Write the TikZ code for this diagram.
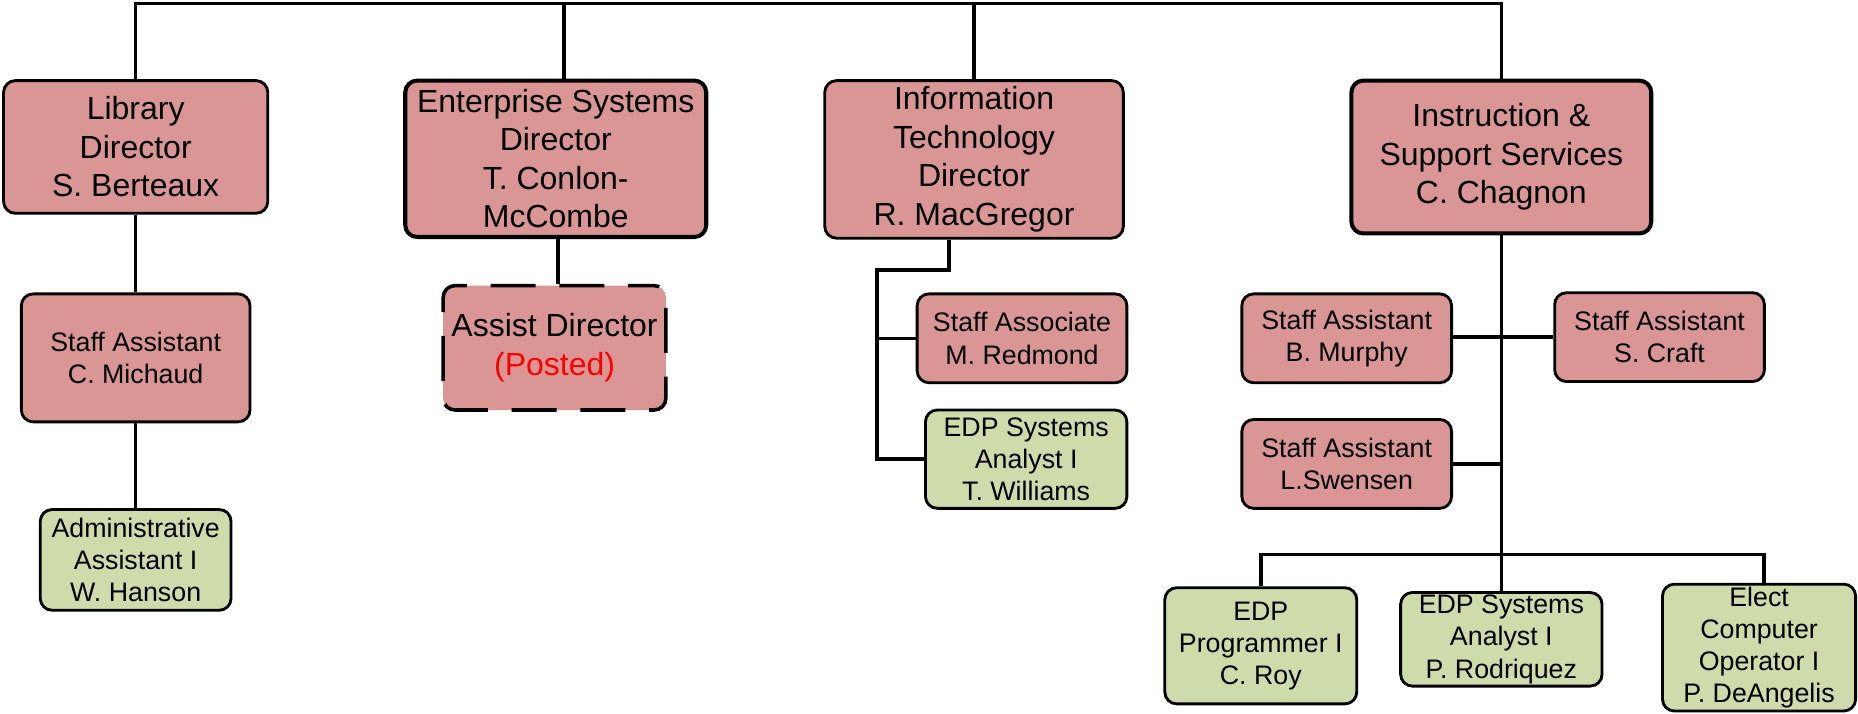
\documentclass[tikz,border=0pt]{standalone}
\usepackage{fontspec}
\setmainfont{Liberation Sans}
\definecolor{boxred}{RGB}{218,150,148}
\definecolor{boxgreen}{RGB}{205,220,170}
\begin{document}
\begin{tikzpicture}[x=0.5pt,y=-0.5pt,
  dirbox/.style={draw,rounded corners=5pt,fill=boxred,line width=1.2pt,align=center,inner sep=1pt,
    font=\fontsize{13.5}{16.25}\selectfont},
  staffbox/.style={draw,rounded corners=5pt,fill=boxred,line width=1.2pt,align=center,inner sep=1pt,
    font=\fontsize{11.3}{13.6}\selectfont},
  edpbox/.style={staffbox,fill=boxgreen},
  link/.style={line width=1.5pt}]
\useasboundingbox (0,0) rectangle (1568,602);
\coordinate (top) at (0,3);
\node[dirbox,minimum width=111.5pt,minimum height=56pt] (lib) at (114.5,124) {Library\\Director\\S. Berteaux};
\node[dirbox,line width=1.7pt,minimum width=127pt,minimum height=66pt] (ent) at (469,134) {Enterprise Systems\\Director\\T. Conlon-\\McCombe};
\node[dirbox,minimum width=126pt,minimum height=66.5pt] (it) at (822,134.5) {Information\\Technology\\Director\\R. MacGregor};
\node[dirbox,line width=1.7pt,minimum width=126.5pt,minimum height=64.5pt] (isd) at (1267,132.5) {Instruction \&\\Support Services\\C. Chagnon};
\node[staffbox,minimum width=96.5pt,minimum height=54pt] (mic) at (114.5,302) {Staff Assistant\\C. Michaud};
\node[edpbox,minimum width=80.5pt,minimum height=42.5pt] (han) at (114.5,472.5) {Administrative\\Assistant I\\W. Hanson};
\node[dirbox,line width=1.5pt,dash pattern=on 19pt off 10pt,dash phase=8pt,minimum width=94pt,minimum height=52.5pt] (asd) at (468,293.5) {Assist Director\\\textcolor{red}{(Posted)}};
\node[staffbox,minimum width=88.5pt,minimum height=37.5pt] (red) at (862.5,285.5) {Staff Associate\\M. Redmond};
\node[edpbox,minimum width=85pt,minimum height=41.5pt] (wil) at (866,387.5) {EDP Systems\\Analyst I\\T. Williams};
\node[staffbox,minimum width=88.5pt,minimum height=37.5pt] (mur) at (1136.5,285.5) {Staff Assistant\\B. Murphy};
\node[staffbox,minimum width=88.5pt,minimum height=37.5pt] (cra) at (1400.5,284.5) {Staff Assistant\\S. Craft};
\node[staffbox,minimum width=88.5pt,minimum height=37.5pt] (swe) at (1136.5,391.5) {Staff Assistant\\L.Swensen};
\node[edpbox,minimum width=81pt,minimum height=49pt] (roy) at (1064,545) {EDP\\Programmer I\\C. Roy};
\node[edpbox,minimum width=85pt,minimum height=39.5pt] (rod) at (1267,539.5) {EDP Systems\\Analyst I\\P. Rodriquez};
\node[edpbox,minimum width=81.5pt,minimum height=53.5pt] (ang) at (1484.5,546.5) {Elect\\Computer\\Operator I\\P. DeAngelis};
\draw[link] (lib.north) -- (lib.north |- top) -- (isd.north |- top) -- (isd.north);
\draw[link] ([xshift=3.5pt]ent.north) -- ([xshift=3.5pt]ent.north |- top);
\draw[link] (it.north) -- (it.north |- top);
\draw[link] (lib) -- (mic);
\draw[link] (mic) -- (han);
\draw[link] ([xshift=1.5pt]asd.north) -- ([xshift=1.5pt]asd.north |- ent.south);
\coordinate (itbus) at (740,228);
\draw[link] ([xshift=-10.5pt]it.south) |- (itbus) |- (wil.west);
\draw[link] (itbus |- red.west) -- (red.west);
\draw[link] (isd.south) -- (rod.north);
\draw[link] (mur.east) -- (cra.west -| mur.east) -- (cra.west);
\draw[link] (swe.east) -- (swe.east -| isd.south);
\coordinate (bus) at (0,468);
\draw[link] (roy.north) -- (roy.north |- bus) -- ([xshift=2pt]ang.north |- bus) -- ([xshift=2pt]ang.north);
\end{tikzpicture}
\end{document}
